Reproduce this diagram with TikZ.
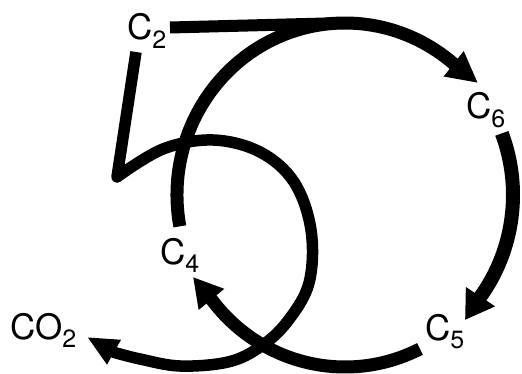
\documentclass[tikz,border=0pt]{standalone}
\usepackage{fontspec}
\setmainfont{TeX Gyre Heros}
\usetikzlibrary{arrows.meta}
\newcommand\sbs[1]{\raisebox{-8.5pt}{\fontsize{25}{25}\selectfont #1}}
\begin{document}
\begin{tikzpicture}[x=1pt,y=-1pt,
  lbl/.style={anchor=base west, inner sep=0pt, font=\fontsize{35}{35}\selectfont},
  loopline/.style={line width=13pt},
  rightline/.style={line width=14pt},
  startline/.style={line width=12pt},
  innerline/.style={line width=11.5pt, line join=round},
  tipsix/.style={-{Triangle[length=31pt,width=30pt]}},
  tipfive/.style={-{Triangle[length=28pt,width=33pt]}},
  tipfour/.style={-{Triangle[length=29pt,width=31pt]}},
  tipco/.style={-{Triangle[length=31pt,width=26pt]}}]
\fill[white] (0,0) rectangle (522,374);
\useasboundingbox (0,0) rectangle (522,374);
% labels
\node[lbl] (c2) at (127,40) {C\sbs{2}};
\node[lbl] (c6) at (466,119) {C\sbs{6}};
\node[lbl] (c5) at (425,340) {C\sbs{5}};
\node[lbl] (c4) at (160,264) {C\sbs{4}};
\node[lbl] (co2) at (10,339) {CO\sbs{2}};
% geometry
\coordinate (ctr) at (345,195);
\path (ctr) ++(169.5:168 and 172) coordinate (c4e);
\path (ctr) ++(-21:168 and 172) coordinate (c6s);
\path (ctr) ++(63.5:168 and 172) coordinate (c5e);
\coordinate (c6tip) at (478,83);
\coordinate (c5tip) at (465,320);
\coordinate (c4tip) at (193,277);
\coordinate (c2e) at (170,27.5);
\coordinate (topj) at (345,23);
\coordinate (fivetop) at (136,52);
\coordinate (co2tip) at (87,337);
% C2 line into the top arc
\draw[startline] (c2e) -- (topj);
% C4 -> top -> C6
\draw[loopline,tipsix] (c4e) arc[start angle=169.5, end angle=310, x radius=168, y radius=172] -- (c6tip);
% C6 -> C5
\draw[rightline,tipfive] (c6s) arc[start angle=-21, end angle=36.3, x radius=168, y radius=172] -- (c5tip);
% C5 -> C4
\draw[loopline,tipfour] (c5e) arc[start angle=63.5, end angle=142.5, x radius=168, y radius=172] -- (c4tip);
% the "5" stroke, inner loop and CO2 arrow
\draw[innerline,tipco] (fivetop) -- plot[smooth, tension=0.6] coordinates {(117,177) (163,149) (213,140) (260,152) (294,182) (311,230) (309,283) (287,322) (260,347) (228,362) (180,366) (140,359) (114.5,352.5)} -- (co2tip);
\end{tikzpicture}
\end{document}
